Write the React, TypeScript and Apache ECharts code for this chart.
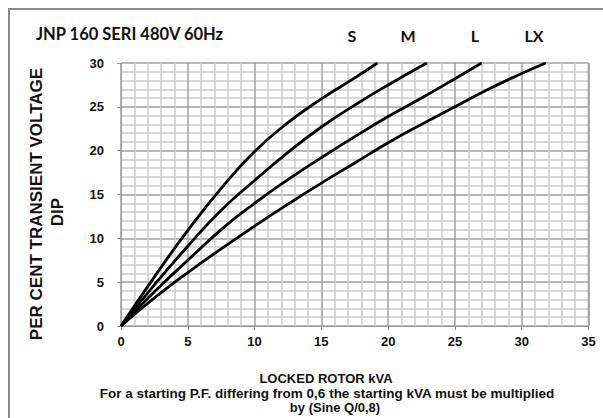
import React, { useEffect, useRef } from "react";
import * as echarts from "echarts";

const seriesNames = ["S", "M", "L", "LX"];
const sData: [number, number][] = [[0, 0], [2.5, 5.6], [5, 10.9], [7.5, 15.7], [10, 19.9], [12.5, 23.2], [15, 25.9], [17.5, 28.3], [19.2, 30]];
const mData: [number, number][] = [[0, 0], [2.5, 4.7], [5, 9.1], [7.5, 13.2], [10, 16.6], [12.5, 19.8], [15, 22.7], [17.5, 25.2], [20, 27.5], [22.9, 30]];
const lData: [number, number][] = [[0, 0], [2.5, 3.9], [5, 7.5], [7.5, 11], [10, 14], [12.5, 16.7], [15, 19.2], [17.5, 21.6], [20, 23.9], [22.5, 26], [25, 28.2], [27, 30]];
const lxData: [number, number][] = [[0, 0], [2.5, 3.2], [5, 6.1], [7.5, 8.8], [10, 11.4], [12.5, 13.9], [15, 16.3], [17.5, 18.6], [20, 20.9], [22.5, 23], [25, 25], [27.5, 27], [30, 28.8], [31.8, 30]];
const allData = [sData, mData, lData, lxData];
const labelX = [352, 408, 475, 534];

const title = "JNP 160 SERI 480V 60Hz";
const yTitle1 = "PER CENT TRANSIENT VOLTAGE";
const yTitle2 = "DIP";
const xTitle1 = "LOCKED ROTOR kVA";
const xTitle2 = "For a starting P.F. differing from 0,6 the starting kVA must be multiplied";
const xTitle3 = "by (Sine Q/0,8)";

export default function App() {
  const ref = useRef<HTMLDivElement>(null);
  useEffect(() => {
    if (!ref.current) return;
    const chart = echarts.init(ref.current, null, { renderer: "svg" });
    const bold = { fontFamily: "Liberation Sans, Arial, sans-serif", fontWeight: "bold" as const, fill: "#111" };
    chart.setOption({
      animation: false,
      backgroundColor: "#fff",
      grid: { left: 121, right: 14.5, top: 63, bottom: 92 },
      xAxis: {
        type: "value", min: 0, max: 35, interval: 5,
        axisLine: { show: true, lineStyle: { color: "#999", width: 1 } },
        axisTick: { show: true, length: 4, lineStyle: { color: "#999" } },
        minorTick: { show: false, splitNumber: 5 },
        splitLine: { show: true, lineStyle: { color: "#a0a0a0", width: 1.5 } },
        minorSplitLine: { show: true, lineStyle: { color: "#cccccc", width: 1.5 } },
        axisLabel: { color: "#111", fontSize: 13, fontWeight: "bold", fontFamily: "Liberation Sans, Arial, sans-serif", margin: 9 },
      },
      yAxis: {
        type: "value", min: 0, max: 30, interval: 5,
        axisLine: { show: true, onZero: false, lineStyle: { color: "#999", width: 1 } },
        axisTick: { show: true, length: 4, lineStyle: { color: "#999" } },
        minorTick: { show: false, splitNumber: 5 },
        splitLine: { show: true, lineStyle: { color: "#a0a0a0", width: 1.5 } },
        minorSplitLine: { show: true, lineStyle: { color: "#cccccc", width: 1.5 } },
        axisLabel: { color: "#111", fontSize: 13, fontWeight: "bold", fontFamily: "Liberation Sans, Arial, sans-serif", margin: 17 },
      },
      series: allData.map((d, i) => ({
        name: seriesNames[i],
        type: "line",
        data: d,
        smooth: 0.5,
        showSymbol: false,
        lineStyle: { color: "#000", width: 2.8 },
        z: 5,
      })),
      graphic: [
        { type: "rect", shape: { x: 9, y: 9, width: 610, height: 420 }, style: { fill: "none", stroke: "#8a8a8a", lineWidth: 2 }, z: 10 },
        { type: "rect", shape: { x: 588.5, y: 63, width: 0, height: 263 }, style: { fill: "none", stroke: "#a0a0a0", lineWidth: 1.5 }, z: 1 },
        { type: "text", x: 36, y: 34, style: { ...bold, text: title, fontSize: 16.5, fontFamily: "Lato, sans-serif", textVerticalAlign: "middle" } },
        ...seriesNames.map((n, i) => ({
          type: "text", x: labelX[i], y: 35,
          style: { ...bold, text: n, fontSize: 16, fontFamily: "Lato, sans-serif", textAlign: "center", textVerticalAlign: "middle" },
        })),
        { type: "text", x: 36, y: 204, rotation: Math.PI / 2, style: { ...bold, text: yTitle1, fontSize: 17, textAlign: "center", textVerticalAlign: "middle" } },
        { type: "text", x: 57, y: 212, rotation: Math.PI / 2, style: { ...bold, text: yTitle2, fontSize: 17, textAlign: "center", textVerticalAlign: "middle" } },
        { type: "text", x: 326, y: 378, style: { ...bold, text: xTitle1, fontSize: 13, textAlign: "center", textVerticalAlign: "middle" } },
        { type: "text", x: 327, y: 393, style: { ...bold, text: xTitle2, fontSize: 13.5, textAlign: "center", textVerticalAlign: "middle" } },
        { type: "text", x: 335, y: 407, style: { ...bold, text: xTitle3, fontSize: 13, textAlign: "center", textVerticalAlign: "middle" } },
      ],
    });
    return () => chart.dispose();
  }, []);
  return <div ref={ref} style={{ position: "fixed", left: 0, top: 0, width: 603, height: 418 }} />;
}
